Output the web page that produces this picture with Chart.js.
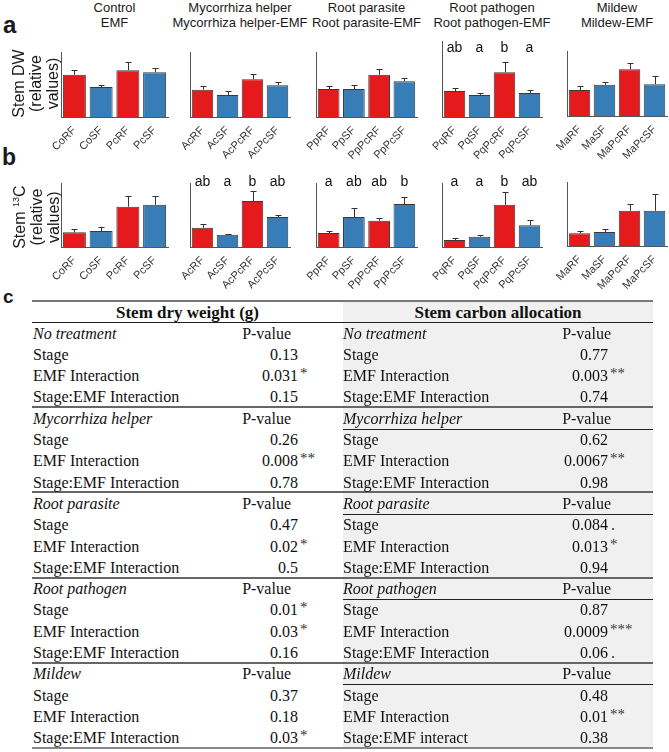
<!DOCTYPE html>
<html>
<head>
<meta charset="utf-8">
<script src="https://cdn.jsdelivr.net/npm/chart.js@4.4.1/dist/chart.umd.min.js"></script>
<style>
  body { margin: 0; background: #fff; }
  #fig { position: relative; width: 669px; height: 752px; overflow: hidden; font-family: "Liberation Sans", Arial, sans-serif; color: #1a1a1a; }
  #fig canvas { position: absolute; }
  .txt { position: absolute; white-space: nowrap; }
  .title { font-size: 13px; line-height: 15px; text-align: center; width: 180px; }
  .tag { font-weight: bold; }
  .ylab { font-size: 16px; line-height: 17px; text-align: center; width: 90px; transform: rotate(-90deg); }
  .tb { font-family: "Liberation Serif", "Times New Roman", serif; font-size: 16px; line-height: 21px; color: #111; }
  .tb.h { font-weight: bold; font-size: 17px; text-align: center; }
  .tb.i { font-style: italic; }
  .sig { font-size: 15px; position: relative; top: -3px; color: #333; }
  .dot { font-size: 16px; color: #333; }
  .rule { position: absolute; }
</style>
</head>
<body>
<div id="fig"></div>
<script>
// ── DATA ────────────────────────────────────────────────────────────────
const groups    = ['Control', 'Mycorrhiza helper', 'Root parasite', 'Root pathogen', 'Mildew'];
const groupsEmf = ['EMF', 'Mycorrhiza helper-EMF', 'Root parasite-EMF', 'Root pathogen-EMF', 'Mildew-EMF'];
const tickLabels = [
  ['CoRF', 'CoSF', 'PcRF', 'PcSF'],
  ['AcRF', 'AcSF', 'AcPcRF', 'AcPcSF'],
  ['PpRF', 'PpSF', 'PpPcRF', 'PpPcSF'],
  ['PqRF', 'PqSF', 'PqPcRF', 'PqPcSF'],
  ['MaRF', 'MaSF', 'MaPcRF', 'MaPcSF'],
];
const barColors = ['#e41a1c', '#377eb8', '#e41a1c', '#377eb8'];

// a: stem dry weight (relative values), mean and SE
const dwMean = [
  [65, 46, 72, 69],
  [42, 34, 58, 49],
  [43, 43, 65, 55],
  [40, 34, 69, 37],
  [40, 48, 72, 49],
];
const dwErr = [
  [7, 3, 13, 6],
  [6, 6, 8, 5],
  [4, 6, 9, 5],
  [5, 3, 16, 5],
  [6, 4, 10, 13],
];
const dwLetters = [null, null, null, ['ab', 'a', 'b', 'a'], null];

// b: stem 13C (relative values), mean and SE
const c13Mean = [
  [23, 25, 63, 66],
  [30, 19, 72, 47],
  [22, 47, 41, 67],
  [11, 16, 66, 34],
  [20, 22, 55, 55],
];
const c13Err = [
  [5, 6, 17, 14],
  [6, 1, 16, 3],
  [3, 14, 4, 11],
  [3, 3, 20, 8],
  [3, 5, 11, 26],
];
const c13Letters = [null, ['ab', 'a', 'b', 'ab'], ['a', 'ab', 'ab', 'b'], ['a', 'a', 'b', 'ab'], null];

// c: ANOVA table
const sections = ['No treatment', 'Mycorrhiza helper', 'Root parasite', 'Root pathogen', 'Mildew'];
const terms    = ['Stage', 'EMF Interaction', 'Stage:EMF Interaction'];
const dwP   = [['0.13', '0.031', '0.15'], ['0.26', '0.008', '0.78'], ['0.47', '0.02', '0.5'], ['0.01', '0.03', '0.16'], ['0.37', '0.18', '0.03']];
const dwSig = [['', '*', ''], ['', '**', ''], ['', '*', ''], ['*', '*', ''], ['', '', '*']];
const cP    = [['0.77', '0.003', '0.74'], ['0.62', '0.0067', '0.98'], ['0.084', '0.013', '0.94'], ['0.87', '0.0009', '0.06'], ['0.48', '0.01', '0.38']];
const cSig  = [['', '**', ''], ['', '**', ''], ['.', '*', ''], ['', '***', '.'], ['', '**', '']];

// ── LAYOUT ──────────────────────────────────────────────────────────────
const fig = document.getElementById('fig');
const AXIS_L = [61, 190, 316, 442, 567];
const AXIS_R = [168, 290, 417, 542, 667];
const PAD_L = 34, PAD_R = 10, PAD_T = 16, X_H = 46;

const ROWS = [
  { mean: dwMean, err: dwErr, letters: dwLetters, base: [117, 117, 117, 117, 116], px: 65, yMax: [100, 100, 100, 117, 100], letterY: 106 },
  { mean: c13Mean, err: c13Err, letters: c13Letters, base: [247, 247, 247, 247, 246], px: 64, yMax: [100, 100, 100, 100, 100], letterY: 101 },
];

function addText(cls, html, left, top, extra) {
  const d = document.createElement('div');
  d.className = 'txt ' + cls;
  d.innerHTML = html;
  d.style.left = left + 'px';
  d.style.top = top + 'px';
  if (extra) Object.assign(d.style, extra);
  fig.appendChild(d);
  return d;
}

function addRule(x1, x2, y, h, color) {
  const d = document.createElement('div');
  d.className = 'rule';
  Object.assign(d.style, { left: x1 + 'px', top: y + 'px', width: (x2 - x1) + 'px', height: h + 'px', background: color });
  fig.appendChild(d);
}

// error bars (upper half only) and significance letters
const errorBars = {
  id: 'errorBars',
  afterDatasetsDraw(chart) {
    const ctx  = chart.ctx;
    const ds   = chart.data.datasets[0];
    const meta = chart.getDatasetMeta(0);
    const y    = chart.scales.y;
    ctx.save();
    ctx.strokeStyle = '#333';
    ctx.lineWidth = 1;
    meta.data.forEach((bar, k) => {
      const x  = Math.round(bar.x) + 0.5;
      const yt = Math.round(y.getPixelForValue(ds.data[k] + ds.errors[k])) + 0.5;
      ctx.beginPath();
      ctx.moveTo(x, bar.y);
      ctx.lineTo(x, yt);
      ctx.moveTo(x - 3, yt);
      ctx.lineTo(x + 3, yt);
      ctx.stroke();
    });
    if (ds.letters) {
      ctx.fillStyle = '#111';
      ctx.font = '14px "Liberation Sans", Arial, sans-serif';
      ctx.textAlign = 'center';
      ctx.textBaseline = 'middle';
      meta.data.forEach((bar, k) => ctx.fillText(ds.letters[k], bar.x, y.getPixelForValue(ds.letterY)));
    }
    ctx.restore();
  }
};

function makePanel(row, i) {
  const h   = Math.round(row.px * row.yMax[i] / 100);
  const top = row.base[i] - h;
  const w   = AXIS_R[i] - AXIS_L[i];
  const cv  = document.createElement('canvas');
  cv.width  = w + PAD_L + PAD_R;
  cv.height = h + PAD_T + X_H;
  cv.style.width  = cv.width + 'px';
  cv.style.height = cv.height + 'px';
  cv.style.left = (AXIS_L[i] - PAD_L) + 'px';
  cv.style.top  = (top - PAD_T) + 'px';
  fig.appendChild(cv);

  new Chart(cv, {
    type: 'bar',
    data: {
      labels: tickLabels[i],
      datasets: [{
        data: row.mean[i],
        errors: row.err[i],
        letters: row.letters[i],
        letterY: row.letterY,
        backgroundColor: barColors,
        borderColor: '#3a3a3a',
        borderWidth: 1,
        barPercentage: 0.86,
        categoryPercentage: 1,
      }]
    },
    options: {
      responsive: false,
      animation: false,
      devicePixelRatio: 1,
      layout: { padding: { left: PAD_L, right: PAD_R, top: PAD_T, bottom: 0 } },
      plugins: { legend: { display: false }, tooltip: { enabled: false } },
      scales: {
        x: {
          grid: { display: false, drawTicks: false },
          border: { display: true, color: '#555', width: 1 },
          ticks: { color: '#333', font: { size: 11 }, minRotation: 45, maxRotation: 45, autoSkip: false, padding: 7 },
          afterFit: s => { s.height = X_H; },
        },
        y: {
          min: 0,
          max: row.yMax[i],
          grid: { display: false, drawTicks: false },
          border: { display: true, color: '#555', width: 1 },
          ticks: { display: false },
          afterFit: s => { s.width = 0; },
        }
      }
    },
    plugins: [errorBars]
  });
}

Chart.defaults.font.family = '"Liberation Sans", Arial, sans-serif';

// ── PANELS a & b ────────────────────────────────────────────────────────
groups.forEach((g, i) => {
  const cx = (AXIS_L[i] + AXIS_R[i]) / 2;
  addText('title', g + '<br>' + groupsEmf[i], cx - 90, 0);
});
ROWS.forEach(row => groups.forEach((g, i) => makePanel(row, i)));

addText('tag', 'a', 3, 11, { fontSize: '24px' });
addText('tag', 'b', 2, 144, { fontSize: '23px' });
addText('tag', 'c', 3, 286, { fontSize: '19px' });

addText('ylab', 'Stem DW<br>(relative<br>values)', 35 - 45, 83 - 25.5);
addText('ylab', 'Stem <sup style="font-size:9px">13</sup>C<br>(relative<br>values)', 35 - 45, 215 - 25.5);

// ── TABLE c ─────────────────────────────────────────────────────────────
const T_L = 32, T_M = 343, T_R = 653;
const T_TOP = 301, HEAD_B = 322, SEC_H = 85.2, ROW_H = 21.3;

// shaded right half
const shade = document.createElement('div');
shade.className = 'rule';
Object.assign(shade.style, { left: T_M + 'px', top: T_TOP + 'px', width: (T_R - T_M) + 'px', height: (748 - T_TOP) + 'px', background: '#f0f0f0' });
fig.appendChild(shade);

addRule(T_L, T_R, T_TOP - 1, 2, '#777');
addRule(T_L, T_R, HEAD_B, 1, '#222');
for (let k = 1; k <= 4; k++) {
  addRule(T_L, T_R, Math.round(HEAD_B + SEC_H * k) - 1, 2, '#666');
  addRule(T_M, T_R, Math.round(HEAD_B + SEC_H * k + ROW_H), 1, '#222');
}
addRule(T_L, T_R, 747, 2, '#888');

addText('tb h', 'Stem dry weight (g)', T_L, T_TOP + 1, { width: (T_M - T_L) + 'px', lineHeight: '21px' });
addText('tb h', 'Stem carbon allocation', T_M, T_TOP + 1, { width: (T_R - T_M) + 'px', lineHeight: '21px' });

function tableSide(x0, pRight, valRight, vals, sigs, lastTerm) {
  sections.forEach((sec, k) => {
    const s = HEAD_B + SEC_H * k;
    addText('tb i', sec, x0, s + 0.5);
    addText('tb', 'P-value', 0, s + 0.5, { right: (669 - pRight) + 'px', left: 'auto', textAlign: 'right' });
    terms.forEach((t, j) => {
      const y = s + ROW_H * (j + 1) + 0.5;
      const label = (lastTerm && k === 4 && j === 2) ? lastTerm : t;
      addText('tb', label, x0, y);
      addText('tb', vals[k][j], 0, y, { right: (669 - valRight) + 'px', left: 'auto', textAlign: 'right' });
      const sg = sigs[k][j];
      if (sg === '.') addText('tb', '<span class="dot">.</span>', valRight + 3, y);
      else if (sg) addText('tb', '<span class="sig">' + sg + '</span>', valRight + 2, y);
    });
  });
}
tableSide(33, 291, 298, dwP, dwSig, null);
tableSide(343, 611, 608, cP, cSig, 'Stage:EMF interact');
</script>
</body>
</html>
